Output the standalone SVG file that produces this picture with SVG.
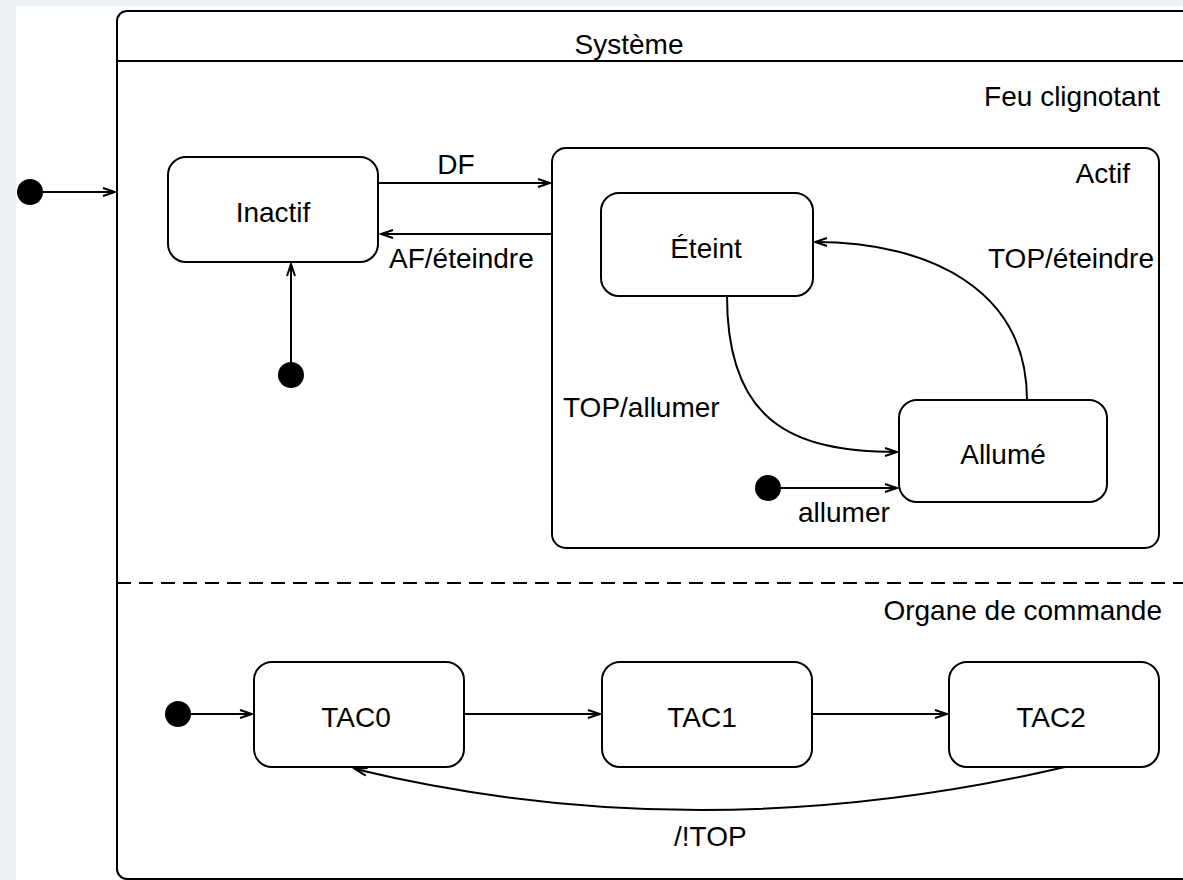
<svg xmlns="http://www.w3.org/2000/svg" width="1183" height="880" viewBox="0 0 1183 880">
<style>
.box{fill:#ffffff;stroke:#000;stroke-width:2}
.ln{fill:none;stroke:#000;stroke-width:2}
.dot{fill:#000}
text{font-family:"Liberation Sans",Arial,sans-serif;font-size:28px;fill:#000}
.c{text-anchor:middle}
.e{text-anchor:end}
</style>
<defs>
<marker id="arr" markerUnits="userSpaceOnUse" markerWidth="16" markerHeight="12" refX="13" refY="5" orient="auto">
<path d="M1,1 L13,5 L1,9" fill="none" stroke="#000" stroke-width="2"/>
</marker>
</defs>
<rect x="0" y="0" width="1183" height="880" fill="#edf1f5"/>
<rect x="16" y="6" width="1167" height="874" fill="#ffffff"/>

<g id="systeme">
<rect class="box" x="117" y="11" width="1120" height="868" rx="10"/>
<line class="ln" x1="117" y1="61" x2="1183" y2="61"/>
<text class="c" x="629" y="54">Système</text>
<line class="ln" x1="117" y1="583" x2="1183" y2="583" stroke-dasharray="14 8"/>
<text class="e" x="1160" y="106">Feu clignotant</text>
<text class="e" x="1162" y="620">Organe de commande</text>
</g>

<g id="init-systeme"><circle class="dot" cx="30" cy="192" r="13"/></g>

<g id="inactif">
<rect class="box" x="168" y="157" width="210" height="105" rx="18"/>
<text class="c" x="273" y="222">Inactif</text>
</g>
<g id="init-inactif"><circle class="dot" cx="291" cy="375" r="13"/></g>

<g id="actif">
<rect class="box" x="552" y="148" width="607" height="400" rx="14"/>
<text class="e" x="1130" y="183">Actif</text>
</g>

<g id="eteint">
<rect class="box" x="601" y="193" width="212" height="103" rx="18"/>
<text class="c" x="706" y="258">Éteint</text>
</g>

<g id="allume">
<rect class="box" x="899" y="400" width="208" height="102" rx="18"/>
<text class="c" x="1003" y="464">Allumé</text>
</g>
<g id="init-actif"><circle class="dot" cx="768" cy="488" r="13"/></g>

<g id="tac0">
<rect class="box" x="254" y="662" width="210" height="105" rx="18"/>
<text class="c" x="356" y="727">TAC0</text>
</g>
<g id="tac1">
<rect class="box" x="602" y="662" width="210" height="105" rx="18"/>
<text class="c" x="702" y="727">TAC1</text>
</g>
<g id="tac2">
<rect class="box" x="949" y="662" width="210" height="105" rx="18"/>
<text class="c" x="1051" y="727">TAC2</text>
</g>
<g id="init-organe"><circle class="dot" cx="178" cy="714" r="13"/></g>

<g id="connectors">
<line class="ln" x1="43" y1="192" x2="115" y2="192" marker-end="url(#arr)"/>
<line class="ln" x1="291" y1="362" x2="291" y2="264" marker-end="url(#arr)"/>
<line class="ln" x1="378" y1="183" x2="550" y2="183" marker-end="url(#arr)"/>
<text class="c" x="456" y="174">DF</text>
<line class="ln" x1="552" y1="234" x2="381" y2="234" marker-end="url(#arr)"/>
<text x="389" y="268">AF/éteindre</text>
<path class="ln" d="M727,296 C727,420 790,452 897,452" marker-end="url(#arr)"/>
<text x="563" y="417">TOP/allumer</text>
<path class="ln" d="M1027,400 C1027,290 930,242 815,242" marker-end="url(#arr)"/>
<text x="988" y="268">TOP/éteindre</text>
<line class="ln" x1="781" y1="488" x2="897" y2="488" marker-end="url(#arr)"/>
<text x="798" y="522">allumer</text>
<line class="ln" x1="191" y1="714" x2="252" y2="714" marker-end="url(#arr)"/>
<line class="ln" x1="464" y1="714" x2="600" y2="714" marker-end="url(#arr)"/>
<line class="ln" x1="812" y1="714" x2="947" y2="714" marker-end="url(#arr)"/>
<path class="ln" d="M1065,767 Q700,852 355,769" marker-end="url(#arr)"/>
<text x="674" y="846">/!TOP</text>
</g>
</svg>
